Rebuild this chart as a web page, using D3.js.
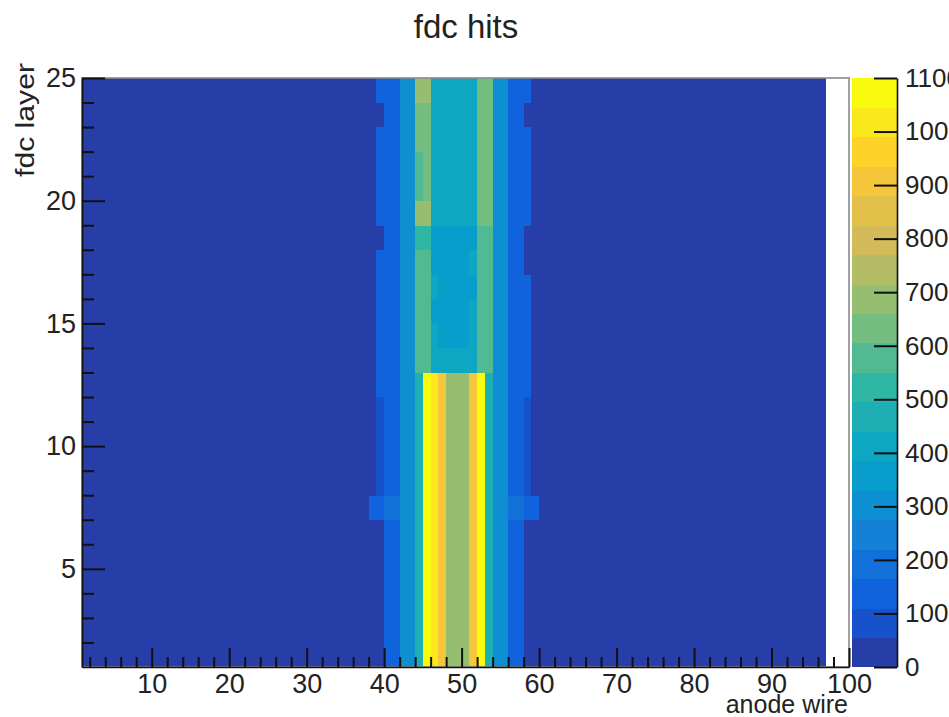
<!DOCTYPE html>
<html>
<head>
<meta charset="utf-8">
<script src="https://cdn.jsdelivr.net/npm/d3@7"></script>
<style>
  body { margin: 0; background: #fff; }
  text { font-family: "Liberation Sans", Arial, sans-serif; fill: #222; }
</style>
</head>
<body>
<svg id="chart" width="949" height="717"></svg>
<script>
// FDC hit counts: anode wire (1..96) versus FDC layer (1..24)
const layers = [1,2,3,4,5,6,7,8,9,10,11,12,13,14,15,16,17,18,19,20,21,22,23,24];
const wires = d3.range(1, 97);
// wires around the beam spot, where the hit count rises above the floor
const windowWires = [37,38,39,40,41,42,43,44,45,46,47,48,49,50,51,52,53,54,55,56,57,58,59,60];
const floorHits = 25;
// one row per layer (layers[0] first), one value per entry of windowWires
const hitsByLayer = [
  [25,25,25,145,150,295,310,480,1075,1010,890,685,680,690,900,1070,475,305,290,150,140,25,25,25],
  [25,25,25,140,155,290,315,485,1070,1005,895,680,685,690,905,1075,480,310,290,155,145,25,25,25],
  [25,25,25,145,150,300,310,480,1080,1010,890,685,680,695,900,1070,485,310,295,150,140,25,25,25],
  [25,25,25,140,150,295,315,475,1075,1000,885,680,680,690,905,1075,480,305,290,150,145,25,25,25],
  [25,25,25,145,155,290,310,480,1070,1010,890,690,685,690,900,1080,480,310,295,155,140,25,25,25],
  [25,25,25,140,150,295,310,485,1075,1005,895,680,680,695,905,1070,475,310,290,150,145,25,25,25],
  [25,130,135,165,170,300,320,490,1080,1015,900,690,690,700,910,1080,490,320,300,170,165,135,130,25],
  [25,25,80,145,155,295,315,480,1075,1010,890,685,685,690,900,1075,480,310,295,150,145,80,25,25],
  [25,25,80,140,150,290,310,485,1070,1000,895,680,680,690,905,1070,485,310,290,155,140,75,25,25],
  [25,25,75,145,150,300,315,480,1075,1010,890,685,680,695,900,1075,480,305,295,150,145,80,25,25],
  [25,25,80,140,155,295,310,475,1080,1005,885,680,685,690,905,1070,475,310,290,150,140,75,25,25],
  [25,25,120,150,160,300,320,490,1070,1010,895,690,685,695,900,1075,485,315,300,160,150,115,25,25],
  [25,25,115,150,160,285,300,560,575,410,400,400,400,400,410,575,560,300,285,160,150,110,25,25],
  [25,25,120,145,155,280,295,570,585,385,380,380,380,380,385,585,570,295,280,155,145,115,25,25],
  [25,25,115,150,155,285,290,575,580,380,375,380,375,380,385,580,575,290,285,155,150,120,25,25],
  [25,25,120,145,160,280,295,580,585,385,380,375,380,375,380,590,580,295,280,160,145,120,25,25],
  [25,25,115,150,155,285,290,570,580,380,375,375,380,380,385,585,575,290,285,155,150,25,25,25],
  [25,25,25,145,155,280,295,520,530,380,375,380,375,380,380,580,570,295,280,155,145,25,25,25],
  [25,25,120,150,160,285,300,670,690,405,400,400,400,400,405,630,620,300,285,160,150,120,25,25],
  [25,25,120,150,155,285,295,600,610,400,395,400,395,400,405,625,610,295,285,155,150,115,25,25],
  [25,25,115,145,160,280,295,600,605,400,400,395,400,395,400,620,610,295,280,160,145,120,25,25],
  [25,25,120,150,155,285,300,610,615,405,400,400,400,400,405,625,615,300,285,155,150,115,25,25],
  [25,25,25,145,155,280,295,620,630,400,395,400,395,400,405,630,620,295,280,155,145,25,25,25],
  [25,25,120,150,160,285,300,660,670,410,405,405,405,405,410,645,640,300,285,160,150,120,25,25]
];

const xMajorTicks = [10,20,30,40,50,60,70,80,90,100];
const xMinorTicks = [2,4,6,8,12,14,16,18,22,24,26,28,32,34,36,38,42,44,46,48,52,54,56,58,62,64,66,68,72,74,76,78,82,84,86,88,92,94,96,98];
const yMajorTicks = [5,10,15,20,25];
const yMinorTicks = [2,3,4,6,7,8,9,11,12,13,14,16,17,18,19,21,22,23,24];
const zTicks = [0,100,200,300,400,500,600,700,800,900,1000,1100];
const zMax = 1100;
const nContours = 20;

// "bird" palette stops
const birdStops = [0.0000, 0.1250, 0.2500, 0.3750, 0.5000, 0.6250, 0.7500, 0.8750, 1.0000];
const birdRed   = [0.2082, 0.0592, 0.0780, 0.0232, 0.1802, 0.5301, 0.8186, 0.9956, 0.9764];
const birdGreen = [0.1664, 0.3599, 0.5041, 0.6419, 0.7178, 0.7492, 0.7328, 0.7862, 0.9832];
const birdBlue  = [0.5293, 0.8684, 0.8385, 0.7914, 0.6425, 0.4662, 0.3499, 0.1968, 0.0539];

const birdColors = birdStops.map((s, i) =>
  d3.rgb(birdRed[i] * 255, birdGreen[i] * 255, birdBlue[i] * 255).formatHex());
const gradient = d3.scaleLinear().domain(birdStops).range(birdColors)
  .interpolate(d3.interpolateRgb).clamp(true);
const nColors = 255;
const levelWidth = zMax / nContours;
function levelColor(level) {
  const idx = Math.min(nColors - 1, Math.floor((level + 0.99) * nColors / nContours));
  return gradient(idx / (nColors - 1));
}
function colorOf(v) {
  const level = Math.max(0, Math.min(nContours - 1, Math.floor(v / levelWidth)));
  return levelColor(level);
}

// build cells
const cells = [];
layers.forEach((layer, li) => {
  wires.forEach(w => {
    const k = windowWires.indexOf(w);
    const v = k >= 0 ? hitsByLayer[li][k] : floorHits;
    if (v > 0) cells.push({ wire: w, layer, v });
  });
});

const svg = d3.select("#chart");
const frame = { left: 82, right: 849, top: 78, bottom: 667 };
const x = d3.scaleLinear().domain([1, 100]).range([frame.left, frame.right]);
const y = d3.scaleLinear().domain([1, 25]).range([frame.bottom, frame.top]);
const pal = { left: 852, right: 897 };
const z = d3.scaleLinear().domain([0, zMax]).range([frame.bottom, frame.top]);

// title
svg.append("text").attr("x", 466).attr("y", 38).attr("text-anchor", "middle")
  .style("font-size", "33px").text("fdc hits");

// heat cells
svg.append("g").selectAll("rect").data(cells).join("rect")
  .attr("x", d => x(d.wire))
  .attr("y", d => y(d.layer + 1))
  .attr("width", d => x(d.wire + 1) - x(d.wire) + 0.4)
  .attr("height", d => y(d.layer) - y(d.layer + 1) + 0.4)
  .attr("fill", d => colorOf(d.v))
  .attr("shape-rendering", "crispEdges");

// frame
svg.append("rect").attr("x", frame.left).attr("y", frame.top)
  .attr("width", frame.right - frame.left).attr("height", frame.bottom - frame.top)
  .attr("fill", "none").attr("stroke", "#8a8a8a").attr("stroke-width", 1.6);

function styleAxis(g) {
  g.selectAll("line").attr("stroke", "#111").attr("stroke-width", 2);
  g.selectAll("path.domain").attr("stroke", "#111").attr("stroke-width", 1.6);
}

// x axis
const gx = svg.append("g").attr("transform", `translate(0,${frame.bottom})`)
  .call(d3.axisBottom(x).tickValues(xMajorTicks).tickSize(-19).tickSizeOuter(0).tickPadding(7));
gx.selectAll("text").style("font-size", "27px").attr("fill", "#222");
styleAxis(gx);
const gxm = svg.append("g").attr("transform", `translate(0,${frame.bottom})`)
  .call(d3.axisBottom(x).tickValues(xMinorTicks).tickSize(-10).tickSizeOuter(0).tickFormat(""));
gxm.select("path.domain").remove();
styleAxis(gxm);

// y axis
const gy = svg.append("g").attr("transform", `translate(${frame.left},0)`)
  .call(d3.axisLeft(y).tickValues(yMajorTicks).tickSize(-23).tickSizeOuter(0).tickPadding(6));
gy.selectAll("text").style("font-size", "27px").attr("fill", "#222");
styleAxis(gy);
const gym = svg.append("g").attr("transform", `translate(${frame.left},0)`)
  .call(d3.axisLeft(y).tickValues(yMinorTicks).tickSize(-12).tickSizeOuter(0).tickFormat(""));
gym.select("path.domain").remove();
styleAxis(gym);

// axis titles
svg.append("text").attr("x", 848).attr("y", 713).attr("text-anchor", "end")
  .style("font-size", "25px").text("anode wire");
svg.append("text").attr("transform", "translate(34,63) rotate(-90)")
  .attr("text-anchor", "end").style("font-size", "26px")
  .attr("textLength", 114).attr("lengthAdjust", "spacingAndGlyphs").text("fdc layer");

// colour palette
const levels = d3.range(nContours);
svg.append("g").selectAll("rect").data(levels).join("rect")
  .attr("x", pal.left).attr("width", pal.right - pal.left)
  .attr("y", d => z((d + 1) * levelWidth))
  .attr("height", d => z(d * levelWidth) - z((d + 1) * levelWidth) + 0.4)
  .attr("fill", d => levelColor(d))
  .attr("shape-rendering", "crispEdges");

const gz = svg.append("g").attr("transform", `translate(${pal.right},0)`)
  .call(d3.axisRight(z).tickValues(zTicks).tickSize(-23).tickSizeOuter(0).tickPadding(8)
    .tickFormat(d3.format("d")));
gz.selectAll("text").style("font-size", "26px").attr("fill", "#222");
styleAxis(gz);
</script>
</body>
</html>
